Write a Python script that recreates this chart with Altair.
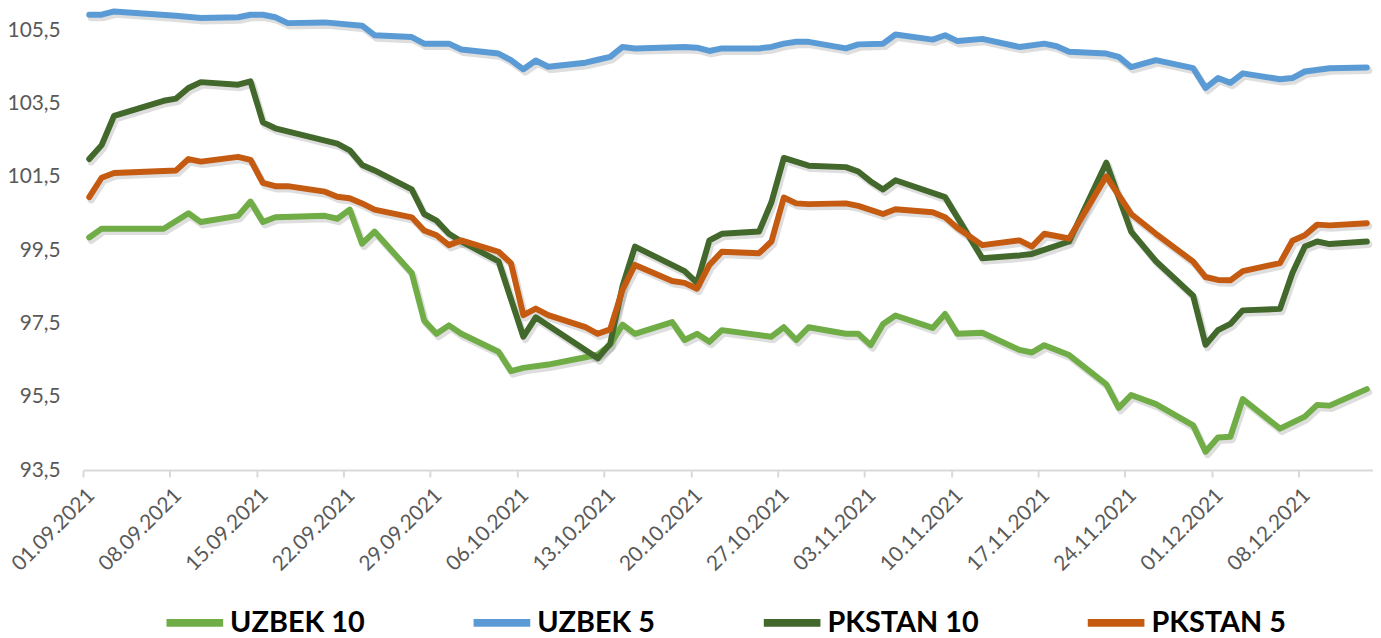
import altair as alt
import pandas as pd

series_names = ["UZBEK 10", "UZBEK 5", "PKSTAN 10", "PKSTAN 5"]
series_colors = ["#70AD47", "#5B9BD5", "#43682B", "#C55A11"]

uz10_dates = ["09-01", "09-02", "09-07", "09-09", "09-10", "09-13", "09-14", "09-15", "09-16", "09-20",
              "09-21", "09-22", "09-23", "09-24", "09-27", "09-28", "09-29", "09-30", "10-01", "10-04",
              "10-05", "10-06", "10-08", "10-11", "10-12", "10-13", "10-14", "10-15", "10-18", "10-19",
              "10-20", "10-21", "10-22", "10-26", "10-27", "10-28", "10-29", "11-01", "11-02", "11-03",
              "11-04", "11-05", "11-08", "11-09", "11-10", "11-12", "11-15", "11-16", "11-17", "11-19",
              "11-22", "11-23", "11-24", "11-26", "11-29", "11-30", "12-01", "12-02", "12-03", "12-06",
              "12-08", "12-09", "12-10", "12-13"]
uz10_values = [99.85, 100.09, 100.09, 100.51, 100.27, 100.44, 100.83, 100.27, 100.40, 100.44,
               100.36, 100.61, 99.68, 100.01, 98.88, 97.58, 97.22, 97.45, 97.22, 96.73,
               96.20, 96.29, 96.38, 96.58, 96.65, 96.92, 97.47, 97.22, 97.54, 97.05,
               97.22, 97.00, 97.32, 97.14, 97.40, 97.05, 97.40, 97.22, 97.22, 96.91,
               97.49, 97.72, 97.38, 97.76, 97.22, 97.25, 96.78, 96.71, 96.91, 96.64,
               95.84, 95.20, 95.55, 95.30, 94.72, 94.00, 94.39, 94.41, 95.44, 94.63,
               94.96, 95.28, 95.26, 95.71]

uz5_dates = ["09-01", "09-02", "09-03", "09-08", "09-10", "09-13", "09-14", "09-15", "09-16", "09-17",
             "09-20", "09-23", "09-24", "09-27", "09-28", "09-30", "10-01", "10-04", "10-05", "10-06",
             "10-07", "10-08", "10-11", "10-12", "10-13", "10-14", "10-15", "10-19", "10-20", "10-21",
             "10-22", "10-25", "10-26", "10-27", "10-28", "10-29", "11-01", "11-02", "11-04", "11-05",
             "11-08", "11-09", "11-10", "11-12", "11-15", "11-17", "11-18", "11-19", "11-22", "11-23",
             "11-24", "11-26", "11-29", "11-30", "12-01", "12-02", "12-03", "12-06", "12-07", "12-08",
             "12-10", "12-13"]
uz5_values = [105.93, 105.93, 106.02, 105.90, 105.84, 105.86, 105.93, 105.93, 105.86, 105.70,
              105.72, 105.63, 105.37, 105.32, 105.14, 105.14, 104.98, 104.87, 104.69, 104.44,
              104.68, 104.51, 104.62, 104.70, 104.78, 105.05, 105.01, 105.05, 105.03, 104.94,
              105.01, 105.01, 105.05, 105.14, 105.19, 105.19, 105.01, 105.12, 105.14, 105.39,
              105.25, 105.37, 105.21, 105.27, 105.05, 105.14, 105.07, 104.92, 104.87, 104.78,
              104.50, 104.69, 104.47, 103.93, 104.20, 104.07, 104.33, 104.17, 104.20, 104.38,
              104.47, 104.49]

pk10_dates = ["09-01", "09-02", "09-03", "09-07", "09-08", "09-09", "09-10", "09-13", "09-14", "09-15",
              "09-16", "09-21", "09-22", "09-23", "09-24", "09-27", "09-28", "09-29", "09-30", "10-01",
              "10-04", "10-06", "10-07", "10-12", "10-13", "10-14", "10-15", "10-19", "10-20", "10-21",
              "10-22", "10-25", "10-26", "10-27", "10-29", "11-01", "11-02", "11-03", "11-04", "11-05",
              "11-09", "11-12", "11-15", "11-16", "11-19", "11-22", "11-24", "11-26", "11-29", "11-30",
              "12-01", "12-02", "12-03", "12-06", "12-07", "12-08", "12-09", "12-10", "12-13"]
pk10_values = [101.99, 102.37, 103.17, 103.58, 103.64, 103.93, 104.09, 104.02, 104.11, 102.99,
               102.83, 102.41, 102.23, 101.83, 101.68, 101.16, 100.49, 100.31, 99.95, 99.74,
               99.20, 97.14, 97.67, 96.55, 96.95, 98.53, 99.60, 98.93, 98.61, 99.77,
               99.95, 100.01, 100.81, 102.02, 101.81, 101.77, 101.65, 101.38, 101.16, 101.41,
               100.95, 99.28, 99.36, 99.40, 99.74, 101.89, 100.01, 99.20, 98.26, 96.92,
               97.32, 97.49, 97.86, 97.90, 98.88, 99.60, 99.74, 99.67, 99.74]

pk5_dates = ["09-01", "09-02", "09-03", "09-08", "09-09", "09-10", "09-13", "09-14", "09-15", "09-16",
             "09-17", "09-20", "09-21", "09-22", "09-23", "09-24", "09-27", "09-28", "09-29", "09-30",
             "10-01", "10-04", "10-05", "10-06", "10-07", "10-08", "10-11", "10-12", "10-13", "10-14",
             "10-15", "10-18", "10-19", "10-20", "10-21", "10-22", "10-25", "10-26", "10-27", "10-28",
             "10-29", "11-01", "11-02", "11-04", "11-05", "11-08", "11-09", "11-10", "11-12", "11-15",
             "11-16", "11-17", "11-19", "11-22", "11-24", "11-26", "11-29", "11-30", "12-01", "12-02",
             "12-03", "12-06", "12-07", "12-08", "12-09", "12-10", "12-13"]
pk5_values = [100.95, 101.48, 101.61, 101.68, 101.99, 101.92, 102.05, 101.97, 101.34, 101.25,
              101.25, 101.10, 100.96, 100.92, 100.78, 100.61, 100.40, 100.04, 99.91, 99.64,
              99.77, 99.46, 99.15, 97.73, 97.91, 97.73, 97.40, 97.22, 97.34, 98.43,
              99.10, 98.66, 98.61, 98.45, 99.10, 99.46, 99.42, 99.74, 100.94, 100.78,
              100.76, 100.78, 100.71, 100.49, 100.62, 100.54, 100.40, 100.11, 99.64, 99.77,
              99.60, 99.95, 99.82, 101.52, 100.49, 99.95, 99.19, 98.77, 98.69, 98.68,
              98.93, 99.15, 99.76, 99.91, 100.20, 100.18, 100.24]

tick_dates = [(9, 1), (9, 8), (9, 15), (9, 22), (9, 29), (10, 6), (10, 13), (10, 20),
              (10, 27), (11, 3), (11, 10), (11, 17), (11, 24), (12, 1), (12, 8)]
y_ticks = [93.5, 95.5, 97.5, 99.5, 101.5, 103.5, 105.5]

rows = []
for name, dates, vals in zip(series_names,
                             [uz10_dates, uz5_dates, pk10_dates, pk5_dates],
                             [uz10_values, uz5_values, pk10_values, pk5_values]):
    for d, v in zip(dates, vals):
        rows.append({"series": name, "date": f"2021-{d}T12:00:00", "value": v})
df = pd.DataFrame(rows)

FONT = "Lato"

x_enc = alt.X(
    "date:T",
    scale=alt.Scale(domain=[alt.DateTime(year=2021, month=9, date=1),
                            alt.DateTime(year=2021, month=12, date=14)]),
    axis=alt.Axis(
        values=[alt.DateTime(year=2021, month=m, date=d) for m, d in tick_dates],
        format="%d.%m.%Y", title=None, grid=False,
        labelAngle=315, labelAlign="right", labelBaseline="middle",
        labelFontSize=21, labelFont=FONT, labelColor="#595959", labelPadding=15,
        labelOffset=8,
        domainColor="#D9D9D9", domainWidth=2, tickColor="#D9D9D9", tickWidth=2, tickSize=7,
        labelOverlap=False,
    ),
)
y_enc = alt.Y(
    "value:Q",
    scale=alt.Scale(domain=[93.5, 106.06], nice=False, zero=False),
    axis=alt.Axis(
        values=y_ticks, title=None, grid=False, domain=False, ticks=False,
        labelExpr="replace(format(datum.value, '.1f'), '.', ',')",
        labelFontSize=21, labelFont=FONT, labelColor="#595959", labelPadding=23,
    ),
)

base = alt.Chart(df)

shadow = base.mark_line(strokeWidth=7, color="#000000", opacity=0.13, xOffset=2, yOffset=3,
                        strokeCap="round", strokeJoin="round").encode(
    x=x_enc, y=y_enc, detail="series:N")

lines = base.mark_line(strokeWidth=6, strokeCap="round", strokeJoin="round").encode(
    x=x_enc, y=y_enc,
    color=alt.Color("series:N", sort=series_names,
                    scale=alt.Scale(domain=series_names, range=series_colors),
                    legend=alt.Legend(orient="none", legendX=80, legendY=584, direction="horizontal",
                                      title=None, symbolType="stroke", symbolSize=3249,
                                      symbolStrokeWidth=8, labelFontSize=29, labelFont=FONT,
                                      labelFontWeight="bold", labelColor="#000000",
                                      columnPadding=93, labelOffset=3, labelLimit=400,
                                      padding=0)),
)

chart = alt.layer(shadow, lines).properties(
    width=1298, height=463,
    autosize=alt.AutoSizeParams(type="none"),
    padding={"left": 75.5, "top": 0, "right": 0, "bottom": 167},
).configure_view(stroke=None)

chart.save("out.html", embed_options={"renderer": "svg", "actions": False})
